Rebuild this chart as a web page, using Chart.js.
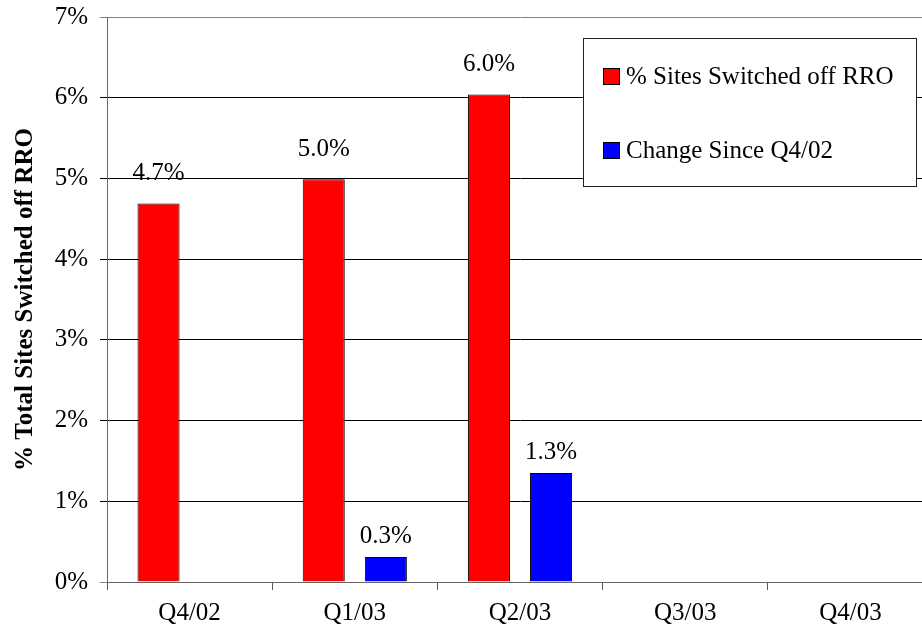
<!DOCTYPE html>
<html lang="en">
<head>
  <meta charset="UTF-8">
  <title>% Sites Switched off RRO</title>
  <script src="https://cdn.jsdelivr.net/npm/chart.js"></script>
  <style>
    body {
      margin: 0;
      background: #fff;
      overflow: hidden;
    }
    .wrap {
      position: relative;
      width: 933px;
      height: 633px;
    }
  </style>
</head>
<body>
  <div class="wrap">
    <canvas id="chart"></canvas>
  </div>

  <script>
    // Chart data
    const quarters = ['Q4/02', 'Q1/03', 'Q2/03', 'Q3/03', 'Q4/03'];
    const switchedOff = [4.69, 4.99, 6.04, null, null];
    const changeSince = [null, 0.31, 1.35, null, null];
    const switchedOffLabels = ['4.7%', '5.0%', '6.0%', '', ''];
    const changeSinceLabels = ['', '0.3%', '1.3%', '', ''];
    const yTicks = [0, 1, 2, 3, 4, 5, 6, 7];

    const FONT = 'Liberation Serif';

    // value labels above each bar
    const valueLabels = {
      id: 'valueLabels',
      afterDatasetsDraw(chart) {
        const ctx = chart.ctx;
        ctx.save();
        ctx.font = '25px "' + FONT + '"';
        ctx.fillStyle = '#000';
        ctx.textAlign = 'center';
        ctx.textBaseline = 'alphabetic';
        chart.data.datasets.forEach((ds, i) => {
          const meta = chart.getDatasetMeta(i);
          meta.data.forEach((bar, j) => {
            const txt = ds.valueText[j];
            if (!txt || ds.data[j] == null) return;
            ctx.fillText(txt, bar.x, bar.y - ds.labelOffset);
          });
        });
        ctx.restore();
      }
    };

    // boxed legend drawn inside the plot, top right
    const boxLegend = {
      id: 'boxLegend',
      afterDraw(chart) {
        const ctx = chart.ctx;
        const x = 583, y = 38, w = 333, h = 148;
        ctx.save();
        ctx.fillStyle = '#fff';
        ctx.fillRect(x, y, w, h);
        ctx.strokeStyle = '#222';
        ctx.lineWidth = 1;
        ctx.strokeRect(x + 0.5, y + 0.5, w, h);
        ctx.font = '25px "' + FONT + '"';
        ctx.textBaseline = 'middle';
        ctx.textAlign = 'left';
        chart.data.datasets.forEach((ds, i) => {
          const cy = 76 + i * 74;
          ctx.fillStyle = ds.backgroundColor;
          ctx.fillRect(603, cy - 8, 16, 16);
          ctx.strokeStyle = '#000';
          ctx.strokeRect(603.5, cy - 7.5, 16, 16);
          ctx.fillStyle = '#000';
          ctx.fillText(ds.label, 626, cy + 1);
        });
        ctx.restore();
      }
    };

    new Chart(document.getElementById('chart'), {
      type: 'bar',
      data: {
        labels: quarters,
        datasets: [
          {
            label: '% Sites Switched off RRO',
            data: switchedOff,
            valueText: switchedOffLabels,
            labelOffset: 23,
            backgroundColor: '#ff0000',
            borderColor: '#000',
            borderWidth: 1,
            categoryPercentage: 0.752,
            barPercentage: 0.677
          },
          {
            label: 'Change Since Q4/02',
            data: changeSince,
            valueText: changeSinceLabels,
            labelOffset: 14,
            backgroundColor: '#0000ff',
            borderColor: '#000',
            borderWidth: 1,
            categoryPercentage: 0.752,
            barPercentage: 0.677
          }
        ]
      },
      options: {
        responsive: true,
        maintainAspectRatio: false,
        animation: false,
        layout: { padding: { top: 17, left: 0, right: 0, bottom: 0 } },
        plugins: {
          legend: { display: false },
          tooltip: { enabled: false }
        },
        scales: {
          x: {
            grid: {
              offset: true,
              drawOnChartArea: false,
              tickLength: 8,
              color: '#555'
            },
            border: { color: '#666', width: 1 },
            ticks: {
              font: { family: FONT, size: 25 },
              color: '#000',
              padding: 8
            },
            afterFit(scale) {
              scale.height = 51;
              scale.paddingLeft = 0;
              scale.paddingRight = 0;
            }
          },
          y: {
            min: 0,
            max: 7,
            afterBuildTicks(scale) {
              scale.ticks = yTicks.map(v => ({ value: v }));
            },
            grid: {
              color: ctx => (ctx.tick && (ctx.tick.value === 0 || ctx.tick.value === 7)) ? '#808080' : '#000',
              tickLength: 7
            },
            border: { color: '#666', width: 1 },
            ticks: {
              font: { family: FONT, size: 25 },
              color: '#000',
              padding: 12,
              callback: v => v + '%'
            },
            title: {
              display: true,
              text: '% Total Sites Switched off RRO',
              font: { family: FONT, size: 25, weight: 'bold' },
              color: '#000',
              padding: { top: 11, bottom: 0 }
            },
            afterFit(scale) {
              scale.width = 107;
              scale.paddingTop = 0;
              scale.paddingBottom = 0;
            }
          }
        }
      },
      plugins: [valueLabels, boxLegend]
    });
  </script>
</body>
</html>
